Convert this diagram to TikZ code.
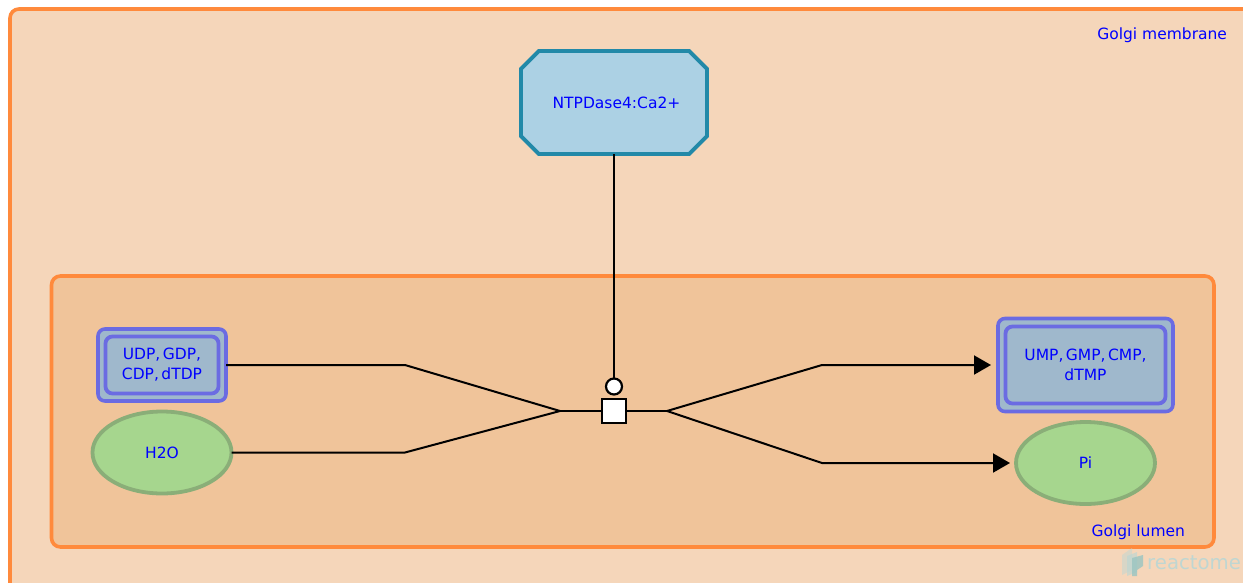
\documentclass[tikz,border=0pt]{standalone}
\usepackage{fontspec}
\setmainfont{DejaVu Sans}
\usetikzlibrary{shapes.geometric,shapes.misc,arrows.meta}
\definecolor{outerfill}{HTML}{F5D6BA}
\definecolor{innerfill}{HTML}{F0C49A}
\definecolor{compline}{HTML}{FF8A3C}
\definecolor{cplxfill}{HTML}{ACD1E4}
\definecolor{cplxline}{HTML}{2289A8}
\definecolor{setfill}{HTML}{9FB8CC}
\definecolor{setline}{HTML}{6B6BE2}
\definecolor{molfill}{HTML}{A6D68E}
\definecolor{molline}{HTML}{8AAE78}
\definecolor{labelblue}{HTML}{0000FF}
\definecolor{logocol}{HTML}{BFD6D2}
\newcommand{\cm}{,\kern2.5pt}
\tikzset{
  lbl/.style={text=labelblue,font=\fontsize{15.5}{20}\selectfont,align=center,inner sep=0pt,outer sep=0pt},
  comp/.style={draw=compline,line width=3.6pt,rounded corners=9pt},
  setouter/.style={draw=setline,fill=setfill,line width=3.6pt,rounded corners=7pt,inner sep=0pt,outer sep=0pt},
  setinner/.style={draw=setline,line width=3.8pt,rounded corners=7pt,lbl},
  mol/.style={ellipse,draw=molline,fill=molfill,line width=3.8pt,lbl,minimum width=139pt,minimum height=82pt},
  conn/.style={draw=black,line width=2pt},
  tip/.style={-{Triangle[length=17pt,width=19pt]}}
}
\begin{document}
\begin{tikzpicture}[x=1pt,y=-1pt]
\clip (0,0) rectangle (1243,582);
\fill[white] (0,0) rectangle (1243,582);
\draw[comp,fill=outerfill] (10,9) rectangle (1300,640);
\draw[comp,fill=innerfill] (51.5,276) rectangle (1214,547);
\node[lbl,anchor=east] (mem) at (1227,35.5) {Golgi membrane};
\node[lbl,anchor=east] (lum) at (1185,532) {Golgi lumen};
\node[chamfered rectangle,chamfered rectangle angle=45,chamfered rectangle xsep=12pt,chamfered rectangle ysep=12pt,draw=cplxline,fill=cplxfill,line width=3.8pt,lbl,minimum width=186pt,minimum height=103pt] (enz) at (614,102.5) {\hspace*{5pt}\raisebox{-1pt}{NTPDase4:Ca2+}};
\node[setouter,minimum width=128pt,minimum height=72pt] (udp) at (162,365) {};
\node[setinner,minimum width=113pt,minimum height=57pt] (udpt) at (162,365) {UDP\cm GDP,\\CDP\cm dTDP};
\node[mol] (h2o) at (162,452.5) {H2O};
\node[setouter,minimum width=175pt,minimum height=93pt] (ump) at (1085.5,365) {};
\node[setinner,minimum width=160pt,minimum height=77pt] (umpt) at (1085.5,365) {UMP\cm GMP\cm CMP,\\dTMP};
\node[mol] (pi) at (1085.5,463) {Pi};
\node[rectangle,draw=black,fill=white,line width=2.2pt,minimum size=24pt,inner sep=0pt,outer sep=0pt] (rxn) at (614,411) {};
\node[circle,draw=black,fill=white,line width=2.2pt,minimum size=16pt,inner sep=0pt,outer sep=0pt] (cat) at (614,386.5) {};
\coordinate (ia) at (405,365);
\coordinate (ib) at (405,452.5);
\coordinate (ij) at (560,411);
\coordinate (oj) at (667,411);
\coordinate (oa) at (822,365);
\coordinate (ob) at (822,463);
\draw[conn] (enz.south) -- (cat.north);
\draw[conn] (udp.east) -- (ia) -- (ij);
\draw[conn] (h2o.east) -- (ib) -- (ij);
\draw[conn] (ij) -- (rxn.west);
\draw[conn] (rxn.east) -- (oj);
\draw[conn,tip,shorten >=7pt] (oj) -- (oa) -- (ump.west);
\draw[conn,tip,shorten >=6pt] (oj) -- (ob) -- (pi.west);
\fill[logocol,opacity=.5] (1122,555) -- (1132,548) -- (1132,570) -- (1122,575) -- cycle;
\fill[logocol,opacity=.7] (1127,556) -- (1137,552) -- (1137,572) -- (1127,576) -- cycle;
\fill[logocol!80!teal,opacity=.8] (1132,558) -- (1143,555) -- (1143,566) -- (1137,570) -- (1137,576) -- (1132,576) -- cycle;
\node[anchor=west,inner sep=0pt,text=logocol,font=\fontsize{19.7}{20}\selectfont] (logo) at (1147,563) {reactome};
\end{tikzpicture}
\end{document}
